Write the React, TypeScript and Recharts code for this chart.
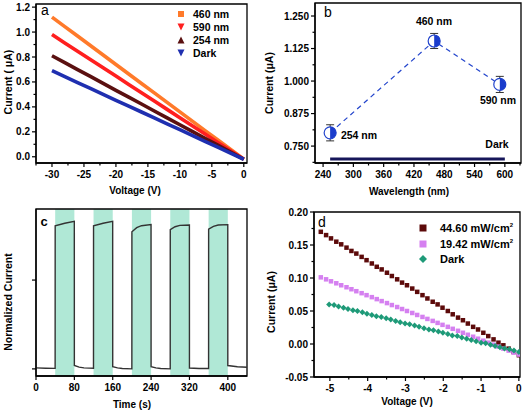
import React from "react";
import { ComposedChart, Line, Scatter, XAxis, YAxis, ErrorBar, ReferenceArea } from "recharts";

const FONT = '"Liberation Sans", Arial, Helvetica, sans-serif';

// panel a: I-V curves
const voltA = [-30, -28, -26, -24, -22, -20, -18, -16, -14, -12, -10, -8, -6, -4, -2, 0];
const cur460 = [1.12, 1.044, 0.968, 0.892, 0.816, 0.74, 0.664, 0.588, 0.512, 0.436, 0.36, 0.284, 0.208, 0.132, 0.056, -0.02];
const cur590 = [0.98, 0.913, 0.847, 0.78, 0.713, 0.647, 0.58, 0.513, 0.447, 0.38, 0.313, 0.247, 0.18, 0.113, 0.047, -0.02];
const cur254 = [0.81, 0.755, 0.699, 0.644, 0.589, 0.533, 0.478, 0.423, 0.367, 0.312, 0.257, 0.201, 0.146, 0.091, 0.035, -0.02];
const curDarkA = [0.69, 0.643, 0.595, 0.548, 0.501, 0.453, 0.406, 0.359, 0.311, 0.264, 0.217, 0.169, 0.122, 0.075, 0.027, -0.02];

// panel b: current vs wavelength
const waveB = [254, 460, 590];
const curB = [0.801, 1.154, 0.987];
const errB = [0.031, 0.029, 0.031];
const darkWave = [254, 600];
const darkCur = [0.7, 0.7];

// panel c: on/off switching
const timeC = [0, 20, 39.9, 40, 60, 79.9, 80, 90, 100, 119.9, 120, 140, 159.9, 160, 170, 180, 199.9, 200, 210, 220, 239.9, 240, 250, 260, 279.9, 280, 290, 300, 319.9, 320, 340, 359.9, 360, 370, 380, 399.9, 400, 420, 440];
const normC = [0.006, 0.004, 0.003, 0.806, 0.82, 0.83, 0.019, 0.01, 0.006, 0.004, 0.806, 0.82, 0.83, 0.013, 0.006, 0.002, 0.0, 0.772, 0.795, 0.806, 0.812, 0.013, 0.006, 0.002, 0.0, 0.784, 0.8, 0.808, 0.81, 0.005, 0.002, 0.002, 0.787, 0.802, 0.81, 0.812, 0.019, 0.012, 0.009];
const lightOn = [[40, 80], [120, 160], [200, 240], [280, 320], [360, 400]];

// panel d: I-V at two light intensities
const voltD = [-5.24, -5.1, -4.97, -4.83, -4.7, -4.56, -4.43, -4.3, -4.16, -4.03, -3.89, -3.76, -3.63, -3.49, -3.36, -3.22, -3.09, -2.96, -2.82, -2.69, -2.55, -2.42, -2.28, -2.15, -2.02, -1.88, -1.75, -1.61, -1.48, -1.35, -1.21, -1.08, -0.94, -0.81, -0.67, -0.54, -0.41, -0.27, -0.14, 0];
const cur4460 = [0.17, 0.165, 0.16, 0.155, 0.151, 0.146, 0.141, 0.137, 0.132, 0.127, 0.122, 0.117, 0.113, 0.108, 0.103, 0.098, 0.093, 0.089, 0.084, 0.079, 0.074, 0.069, 0.064, 0.06, 0.055, 0.05, 0.045, 0.04, 0.036, 0.031, 0.026, 0.022, 0.017, 0.012, 0.007, 0.002, -0.002, -0.007, -0.012, -0.017];
const cur1942 = [0.101, 0.098, 0.095, 0.092, 0.089, 0.086, 0.083, 0.08, 0.077, 0.074, 0.071, 0.068, 0.065, 0.062, 0.059, 0.056, 0.053, 0.05, 0.047, 0.044, 0.041, 0.038, 0.035, 0.032, 0.029, 0.026, 0.023, 0.02, 0.017, 0.014, 0.011, 0.008, 0.005, 0.002, -0.001, -0.004, -0.007, -0.01, -0.013, -0.016];
const voltDark = [-5.02, -4.89, -4.77, -4.64, -4.52, -4.39, -4.27, -4.14, -4.02, -3.89, -3.77, -3.64, -3.51, -3.39, -3.26, -3.14, -3.01, -2.89, -2.76, -2.64, -2.51, -2.38, -2.26, -2.13, -2.01, -1.88, -1.76, -1.63, -1.51, -1.38, -1.26, -1.13, -1.0, -0.88, -0.75, -0.63, -0.5, -0.38, -0.25, -0.13, 0];
const curDarkD = [0.06, 0.059, 0.057, 0.055, 0.053, 0.051, 0.05, 0.048, 0.046, 0.044, 0.042, 0.041, 0.039, 0.037, 0.035, 0.033, 0.031, 0.03, 0.028, 0.026, 0.024, 0.022, 0.021, 0.019, 0.017, 0.015, 0.013, 0.012, 0.01, 0.008, 0.006, 0.004, 0.002, 0.001, -0.001, -0.003, -0.005, -0.007, -0.008, -0.01, -0.012];

const C460 = "#ff7a2a";
const C590 = "#ff1f1f";
const C254 = "#5a1010";
const CDARK = "#1f2fb0";
const CHI = "#5c0a0a";
const CLO = "#d580f0";
const CGRN = "#1e9a78";
const CBLUE = "#2244cc";

const pairs = (xs: number[], ys: number[]) => xs.map((x, i) => ({ x, y: ys[i] }));

const axisLine = { stroke: "#000", strokeWidth: 1.3 };

function makeTick(side: "bottom" | "left", majors: number[], fmt: ((v: number) => string) | null) {
  return (props: any) => {
    const { x, y, payload } = props;
    const v = payload.value;
    const major = majors.some((m) => Math.abs(m - v) < 1e-9);
    const len = major ? 4 : 2.5;
    const txt = major && fmt ? fmt(v) : "";
    if (side === "bottom") {
      return (
        <g>
          <line x1={x} y1={y} x2={x} y2={y + len} stroke="#000" strokeWidth={1.2} />
          {txt && (
            <text x={x} y={y + 15} textAnchor="middle" fontSize={10} fontWeight="bold" fontFamily={FONT} fill="#000">
              {txt}
            </text>
          )}
        </g>
      );
    }
    return (
      <g>
        <line x1={x} y1={y} x2={x - len} y2={y} stroke="#000" strokeWidth={1.2} />
        {txt && (
          <text x={x - 6} y={y + 3.5} textAnchor="end" fontSize={10} fontWeight="bold" fontFamily={FONT} fill="#000">
            {txt}
          </text>
        )}
      </g>
    );
  };
}

function Txt({ x, y, children, size = 10, bold = true, anchor = "middle", rotate = false }: any) {
  const tx = anchor === "start" ? "0" : anchor === "end" ? "-100%" : "-50%";
  return (
    <div
      style={{
        position: "absolute",
        left: x,
        top: y,
        transform: `translate(${tx}, -50%)${rotate ? " rotate(-90deg)" : ""}`,
        whiteSpace: "nowrap",
        fontFamily: FONT,
        fontSize: size,
        fontWeight: bold ? "bold" : "normal",
        lineHeight: 1,
        color: "#000",
      }}
    >
      {children}
    </div>
  );
}

function Marker({ shape, color, size = 7 }: any) {
  const h = size / 2;
  let el;
  if (shape === "square") el = <rect x={5 - h} y={5 - h} width={size} height={size} fill={color} />;
  else if (shape === "down") el = <polygon points={`${5 - h},${5 - h} ${5 + h},${5 - h} 5,${5 + h}`} fill={color} />;
  else if (shape === "up") el = <polygon points={`${5 - h},${5 + h} ${5 + h},${5 + h} 5,${5 - h}`} fill={color} />;
  else el = <polygon points={`5,${5 - h} ${5 + h},5 5,${5 + h} ${5 - h},5`} fill={color} />;
  return <svg width={10} height={10} style={{ display: "block" }}>{el}</svg>;
}

function LegendRow({ x, y, shape, color, size, tx, fs = 10.5, children }: any) {
  return (
    <>
      <div style={{ position: "absolute", left: x - 5, top: y - 5 }}>
        <Marker shape={shape} color={color} size={size} />
      </div>
      <Txt x={tx} y={y} size={fs} anchor="start">{children}</Txt>
    </>
  );
}

function PanelA() {
  const xMaj = [-30, -25, -20, -15, -10, -5, 0];
  const xMin = [-32.5, -27.5, -22.5, -17.5, -12.5, -7.5, -2.5];
  const yMaj = [0, 0.2, 0.4, 0.6, 0.8, 1.0, 1.2];
  const yMin = [0.1, 0.3, 0.5, 0.7, 0.9, 1.1];
  const series = [
    { d: cur460, c: C460 },
    { d: cur590, c: C590 },
    { d: cur254, c: C254 },
    { d: curDarkA, c: CDARK },
  ];
  return (
    <div style={{ position: "absolute", left: 0, top: 0 }}>
      <ComposedChart width={262} height={205} margin={{ top: 4, right: 15, bottom: 0, left: 0 }}>
        <XAxis type="number" dataKey="x" domain={[-32.5, 0.5]} ticks={[...xMaj, ...xMin].sort((a, b) => a - b)} interval={0} height={42}
          axisLine={axisLine} tickLine={false} tickSize={0} tickMargin={0} tick={makeTick("bottom", xMaj, (v) => String(v))} allowDataOverflow />
        <YAxis type="number" dataKey="y" domain={[-0.05, 1.225]} ticks={[...yMaj, ...yMin].sort((a, b) => a - b)} interval={0} width={36}
          axisLine={axisLine} tickLine={false} tickSize={0} tickMargin={0} tick={makeTick("left", yMaj, (v) => v.toFixed(1))} allowDataOverflow />
        <ReferenceArea x1={-32.5} x2={0.5} y1={-0.05} y2={1.225} fill="none" stroke="#000" strokeWidth={1.3} />
        {series.map((s, i) => (
          <Line key={i} data={pairs(voltA, s.d)} dataKey="y" type="linear" stroke={s.c} strokeWidth={3.6} dot={false} isAnimationActive={false} />
        ))}
      </ComposedChart>
    </div>
  );
}

function HalfCircle(props: any) {
  const { cx, cy } = props;
  const r = 6;
  return (
    <g>
      <circle cx={cx} cy={cy} r={r} fill="#fff" stroke={CBLUE} strokeWidth={1.2} />
      <path d={`M${cx},${cy - r} A${r},${r} 0 0 1 ${cx},${cy + r} Z`} fill="#1a3ccc" />
    </g>
  );
}

function PanelB() {
  const xMaj = [240, 300, 360, 420, 480, 540, 600];
  const xMin = [270, 330, 390, 450, 510, 570, 630];
  const yMaj = [0.75, 0.875, 1.0, 1.125, 1.25];
  const yMin = [0.6875, 0.8125, 0.9375, 1.0625, 1.1875];
  const pts = waveB.map((x, i) => ({ x, y: curB[i], e: errB[i] }));
  return (
    <div style={{ position: "absolute", left: 262, top: 0 }}>
      <ComposedChart width={262} height={205} margin={{ top: 3, right: 3, bottom: 0, left: 0 }}>
        <XAxis type="number" dataKey="x" domain={[224, 632]} ticks={[...xMaj, ...xMin].sort((a, b) => a - b)} interval={0} height={42}
          axisLine={axisLine} tickLine={false} tickSize={0} tickMargin={0} tick={makeTick("bottom", xMaj, (v) => String(v))} allowDataOverflow />
        <YAxis type="number" dataKey="y" domain={[0.685, 1.3]} ticks={[...yMaj, ...yMin].sort((a, b) => a - b)} interval={0} width={53}
          axisLine={axisLine} tickLine={false} tickSize={0} tickMargin={0} tick={makeTick("left", yMaj, (v) => v.toFixed(3))} allowDataOverflow />
        <ReferenceArea x1={224} x2={632} y1={0.685} y2={1.3} fill="none" stroke="#000" strokeWidth={1.3} />
        <Line data={pairs(darkWave, darkCur)} dataKey="y" type="linear" stroke="#16165a" strokeWidth={3} dot={false} isAnimationActive={false} />
        <Line data={pts} dataKey="y" type="linear" stroke={CBLUE} strokeWidth={1.2} strokeDasharray="5 4" dot={false} isAnimationActive={false} />
        <Scatter data={pts} dataKey="y" shape={HalfCircle} isAnimationActive={false}>
          <ErrorBar dataKey="e" direction="y" width={4} stroke="#333" strokeWidth={1} />
        </Scatter>
      </ComposedChart>
    </div>
  );
}

function PanelC() {
  const xMaj = [0, 80, 160, 240, 320, 400];
  return (
    <div style={{ position: "absolute", left: 0, top: 205 }}>
      <ComposedChart width={262} height={206} margin={{ top: 4, right: 15, bottom: 0, left: 0 }}>
        <XAxis type="number" dataKey="x" domain={[0, 440]} ticks={xMaj} interval={0} height={35}
          axisLine={axisLine} tickLine={false} tickSize={0} tickMargin={0} tick={makeTick("bottom", xMaj, (v) => String(v))} allowDataOverflow />
        <YAxis type="number" dataKey="y" domain={[-0.04, 0.9]} ticks={[0, 0.5]} interval={0} width={36}
          axisLine={axisLine} tickLine={false} tickSize={0} tickMargin={0} tick={makeTick("left", [0, 0.5], null)} allowDataOverflow />
        {lightOn.map(([a, b], i) => (
          <ReferenceArea key={i} x1={a} x2={b} y1={-0.04} y2={0.9} fill="#b0e8d6" fillOpacity={1} stroke="none" />
        ))}
        <ReferenceArea x1={0} x2={440} y1={-0.04} y2={0.9} fill="none" stroke="#000" strokeWidth={1.3} />
        <Line data={pairs(timeC, normC)} dataKey="y" type="linear" stroke="#333" strokeWidth={1.4} dot={false} isAnimationActive={false} />
      </ComposedChart>
    </div>
  );
}

function SquareDot(color: string, s: number) {
  return (p: any) => <rect x={p.cx - s / 2} y={p.cy - s / 2} width={s} height={s} fill={color} />;
}
function DiamondDot(color: string, s: number) {
  return (p: any) => {
    const h = s / 2;
    return <polygon points={`${p.cx},${p.cy - h} ${p.cx + h},${p.cy} ${p.cx},${p.cy + h} ${p.cx - h},${p.cy}`} fill={color} />;
  };
}

function PanelD() {
  const xMaj = [-5, -4, -3, -2, -1, 0];
  const xMin = [-4.5, -3.5, -2.5, -1.5, -0.5];
  const yMaj = [-0.05, 0, 0.05, 0.1, 0.15, 0.2];
  const yMin = [-0.025, 0.025, 0.075, 0.125, 0.175];
  return (
    <div style={{ position: "absolute", left: 262, top: 205 }}>
      <ComposedChart width={262} height={206} margin={{ top: 7, right: 4, bottom: 0, left: 0 }}>
        <XAxis type="number" dataKey="x" domain={[-5.42, 0.03]} ticks={[...xMaj, ...xMin].sort((a, b) => a - b)} interval={0} height={34}
          axisLine={axisLine} tickLine={false} tickSize={0} tickMargin={0} tick={makeTick("bottom", xMaj, (v) => String(v))} allowDataOverflow />
        <YAxis type="number" dataKey="y" domain={[-0.05, 0.2]} ticks={[...yMaj, ...yMin].sort((a, b) => a - b)} interval={0} width={52}
          axisLine={axisLine} tickLine={false} tickSize={0} tickMargin={0} tick={makeTick("left", yMaj, (v) => v.toFixed(2))} allowDataOverflow />
        <ReferenceArea x1={-5.42} x2={0.03} y1={-0.05} y2={0.2} fill="none" stroke="#000" strokeWidth={1.3} />
        <Scatter data={pairs(voltD, cur4460)} dataKey="y" shape={SquareDot(CHI, 4.5)} isAnimationActive={false} />
        <Scatter data={pairs(voltD, cur1942)} dataKey="y" shape={SquareDot(CLO, 4.5)} isAnimationActive={false} />
        <Scatter data={pairs(voltDark, curDarkD)} dataKey="y" shape={DiamondDot(CGRN, 6)} isAnimationActive={false} />
      </ComposedChart>
    </div>
  );
}

export default function App() {
  return (
    <div style={{ position: "absolute", left: 0, top: 0, width: 524, height: 411, background: "#fff", overflow: "hidden" }}>
      <PanelA />
      <PanelB />
      <PanelC />
      <PanelD />

      <Txt x={45} y={10} size={14} bold={false}>a</Txt>
      <Txt x={8} y={82} size={10.5} rotate>Current ( μA)</Txt>
      <Txt x={135} y={191}>Voltage (V)</Txt>
      <LegendRow x={181} y={14} tx={193} shape="square" color={C460} size={6}>460 nm</LegendRow>
      <LegendRow x={181} y={27} tx={193} shape="down" color={C590} size={7}>590 nm</LegendRow>
      <LegendRow x={181} y={40} tx={193} shape="up" color={C254} size={7}>254 nm</LegendRow>
      <LegendRow x={181} y={53} tx={193} shape="down" color={CDARK} size={7}>Dark</LegendRow>

      <Txt x={328} y={12} size={14} bold={false}>b</Txt>
      <Txt x={269} y={83} size={10.5} rotate>Current (μA)</Txt>
      <Txt x={409} y={192}>Wavelength (nm)</Txt>
      <Txt x={434} y={21} size={10.5}>460 nm</Txt>
      <Txt x={498} y={100} size={10.5}>590 nm</Txt>
      <Txt x={359} y={135} size={10.5}>254 nm</Txt>
      <Txt x={497} y={144} size={10.5}>Dark</Txt>

      <Txt x={44} y={221} size={13}>c</Txt>
      <Txt x={8} y={302} size={10.5} rotate>Normalized Current</Txt>
      <Txt x={132} y={405}>Time (s)</Txt>

      <Txt x={322} y={222} size={14} bold={false}>d</Txt>
      <Txt x={271} y={302} size={10.5} rotate>Current (μA)</Txt>
      <Txt x={407} y={402}>Voltage (V)</Txt>
      <LegendRow x={423} y={228} tx={440} fs={11} shape="square" color={CHI} size={7}>44.60 mW/cm<sup style={{ fontSize: 6 }}>2</sup></LegendRow>
      <LegendRow x={423} y={244} tx={440} fs={11} shape="square" color={CLO} size={7}>19.42 mW/cm<sup style={{ fontSize: 6 }}>2</sup></LegendRow>
      <LegendRow x={423} y={259} tx={440} fs={11} shape="diamond" color={CGRN} size={8}>Dark</LegendRow>
    </div>
  );
}
